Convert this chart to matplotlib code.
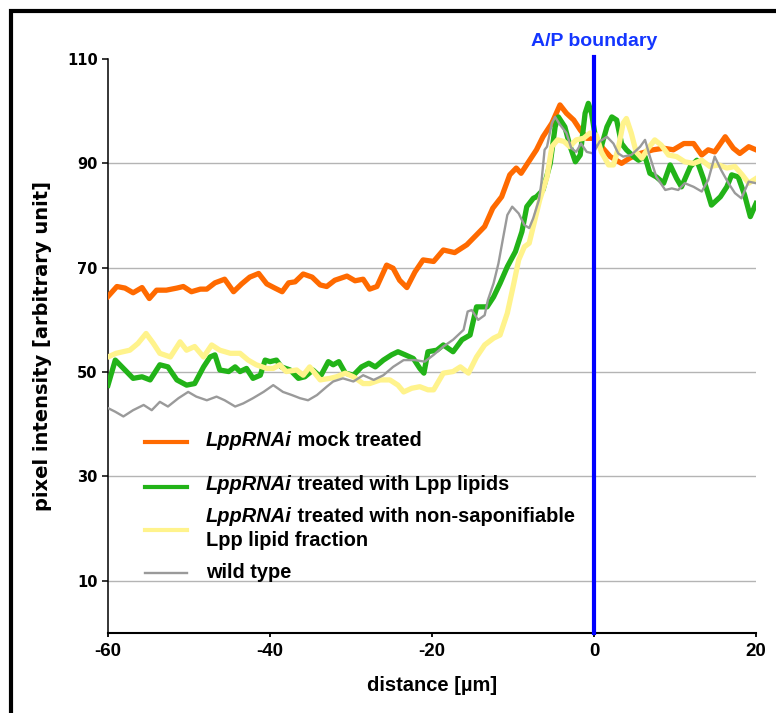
import matplotlib
matplotlib.use("Agg")
import matplotlib.pyplot as plt
from matplotlib.lines import Line2D
from matplotlib.patches import Rectangle

# profile data (distance in um, intensity in a.u.)
mock_x = [-60, -58.9, -57.9, -56.9, -55.8, -54.9, -54, -52.8, -51.5, -50.7, -49.7, -48.6, -47.8,
          -46.8, -45.6, -44.5, -43.5, -42.5, -41.4, -40.4, -39.4, -38.5, -37.7, -36.9, -35.9,
          -34.8, -33.8, -33, -32, -30.5, -29.5, -28.5, -27.7, -26.8, -25.6, -24.8, -24, -23.1,
          -22.1, -21.1, -19.8, -18.6, -17.2, -15.7, -14.5, -13.5, -12.5, -11.4, -10.4, -9.6,
          -9, -8.2, -7.1, -6.3, -5.2, -4.2, -3.4, -2.5, -1.7, -0.9, 0.3, 1.1, 2, 3.4, 4.4, 5.7,
          7.3, 8.6, 9.8, 11.1, 12.3, 13.3, 14.1, 14.9, 16.2, 17.2, 18, 19.1, 20]
mock_y = [64.5, 66.4, 66.1, 65.2, 66.2, 64.1, 65.7, 65.7, 66.1, 66.4, 65.4, 65.9, 65.9,
          67.1, 67.8, 65.4, 66.9, 68.2, 68.9, 66.9, 66.1, 65.4, 67.1, 67.3, 68.8,
          68.2, 66.7, 66.4, 67.6, 68.4, 67.5, 67.8, 65.9, 66.4, 70.5, 69.9, 67.6, 66.2,
          69.2, 71.5, 71.2, 73.4, 72.9, 74.4, 76.3, 77.9, 81.4, 83.6, 87.8, 89.1,
          88.1, 90, 92.6, 95.1, 97.7, 101.2, 99.6, 98.3, 96.4, 94.8, 94.8, 92.9, 91.3, 90, 91, 91.9,
          92.6, 92.9, 92.6, 93.8, 93.8, 91.6, 92.6, 92.2, 95.1, 92.9, 91.9, 93.2, 92.6]

lipid_x = [-60, -59.1, -57.9, -56.9, -55.8, -54.8, -53.6, -52.6, -51.5, -50.3, -49.3, -48.2, -47.4,
           -46.8, -46.2, -45.1, -44.3, -43.7, -42.9, -42.1, -41.2, -40.6, -40, -39.2, -38.6, -37.5,
           -36.5, -35.7, -34.7, -33.8, -32.8, -32.2, -31.5, -30.7, -29.7, -28.7, -27.8, -27, -26,
           -25, -24.2, -23.3, -22.3, -21.5, -21, -20.5, -19.4, -18.6, -17.4, -16.3, -15.3, -14.5,
           -13.2, -12.4, -11.6, -10.7, -9.7, -8.9, -8.3, -7.5, -7.1, -6.3, -5.4, -4.8, -4.4, -3.6,
           -3, -2.3, -1.7, -1.1, -0.7, -0.3, 0.3, 0.9, 1.6, 2.2, 2.8, 3.4, 4, 4.9, 5.5, 6.3, 6.9,
           7.7, 8.6, 9.4, 10.2, 10.8, 11.9, 12.7, 13.5, 14.5, 15.6, 16.4, 17, 17.8, 18.6, 19.3, 20]
lipid_y = [47.5, 52.3, 50.4, 48.8, 49.1, 48.5, 51.4, 51, 48.5, 47.5, 47.8, 51, 52.9,
           53.3, 50.4, 50.1, 51, 50.1, 50.7, 48.8, 49.4, 52.3, 52, 52.3, 51, 50.4,
           48.8, 49.1, 50.4, 49.1, 52, 51.4, 52, 49.8, 49.4, 51, 51.7, 51, 52.3,
           53.3, 53.9, 53.3, 52.6, 50.7, 49.8, 53.9, 54.2, 55.2, 53.9, 56.2, 57.1, 62.5,
           62.5, 64.4, 67, 70.2, 73.1, 76.9, 81.7, 83.3, 83.6, 84.9, 90, 97, 98.9, 97,
           93.5, 90.3, 91.6, 99.6, 101.5, 99.6, 93.8, 93.2, 97, 98.9, 98.3, 93.8, 92.6, 91.3, 90.6, 91.3, 88.1,
           87.4, 86.2, 89.7, 87.1, 85.5, 89.4, 90.6, 87.1, 82, 83.6, 85.5, 87.8, 87.4, 83.9, 79.8, 82.3]

nonsap_x = [-60, -59, -57.3, -56.3, -55.3, -54.4, -53.6, -52.3, -51.1, -50.3, -49.3, -48.2, -47.2,
            -46.2, -44.9, -43.7, -42.7, -41.7, -40.4, -39.6, -38.8, -38, -36.7, -35.9, -35.1, -33.8,
            -32.6, -31.8, -30.7, -29.7, -28.5, -27.7, -26.4, -25.2, -24.2, -23.5, -22.5, -21.5,
            -20.5, -19.8, -18.6, -17.4, -16.5, -15.5, -14.5, -13.5, -12.4, -11.6, -10.7, -9.9,
            -9.3, -8.6, -8, -7.5, -6.7, -5.8, -5.2, -4.5, -3.7, -3, -2.2, -1.3, -0.5, 0.3, 0.9,
            1.8, 2.4, 3, 3.6, 4, 4.6, 5.2, 5.9, 6.7, 7.5, 8.3, 9.2, 10.2, 11.2, 12.3, 13.3, 14.3,
            15.4, 16.4, 17.4, 18.3, 19.1, 20]
nonsap_y = [52.9, 53.6, 54.2, 55.5, 57.4, 55.5, 53.6, 52.9, 55.8, 54.2, 54.9, 52.9, 55.2,
            54.2, 53.6, 53.6, 52.3, 51.4, 50.7, 50.7, 51.4, 50.1, 50.4, 49.4, 51, 48.5,
            48.8, 49.1, 49.8, 49.1, 47.8, 47.8, 48.5, 48.5, 47.5, 46.2, 46.9, 47.2,
            46.6, 46.6, 49.8, 50.1, 51, 49.8, 52.9, 55.2, 56.5, 57.1, 61.3, 67,
            71.5, 74, 74.7, 77.9, 83, 87.4, 93.2, 94.5, 94.2, 93.2, 94.5, 94.8, 95.8, 95.4, 92.2,
            89.7, 89.7, 92.9, 97.7, 98.6, 95.8, 92.2, 91, 92.9, 94.5, 93.5, 91.6, 91.3, 90.3, 90, 90.6, 89.4,
            89.7, 89.1, 89.4, 87.8, 86.2, 87.1]

wt_x = [-60, -59.1, -58.1, -56.9, -55.6, -54.6, -53.6, -52.6, -51.3, -50.1, -49.1, -47.8, -46.6,
        -45.6, -44.3, -43.3, -42.1, -40.8, -39.6, -38.4, -37.3, -36.3, -35.3, -34.2, -33, -32.2,
        -31, -29.7, -28.5, -27.2, -26, -24.8, -23.5, -22.1, -20.9, -19.8, -18.6, -17.4, -16.1,
        -15.6, -15.1, -14.3, -13.5, -13.1, -12.4, -11.8, -11.2, -10.7, -10.1, -9.3, -8.6, -8,
        -7.5, -6.8, -6.5, -6.1, -5.8, -5.2, -4.8, -4.2, -3.4, -2.8, -2.2, -1.6, -0.9, -0.1, 0.7,
        1.6, 2.4, 3, 3.6, 4.6, 5.7, 6.3, 6.9, 7.7, 8.8, 9.6, 10.4, 11.2, 12.3, 13.3, 14.1, 14.9,
        15.7, 16.6, 17.4, 18.2, 19.1, 20]
wt_y = [43.1, 42.4, 41.5, 42.7, 43.7, 42.7, 44.3, 43.4, 45, 46.2, 45.3, 44.6, 45.3,
        44.6, 43.4, 44, 45, 46.2, 47.5, 46.2, 45.6, 45, 44.6, 45.6, 47.2, 48.2,
        48.8, 48.2, 49.4, 48.5, 49.4, 51, 52.3, 52.3, 52, 53.3, 54.9, 56.2, 58.1,
        61.6, 61.9, 60, 60.9, 63.8, 67, 70.8, 75.9, 80.1, 81.7, 80.4, 78.2, 77.6,
        79.5, 83, 86.2, 92.6, 93.2, 97.7, 98.9, 97.4, 95.8, 92.9, 92.2, 93.8, 92.2, 91.9, 94.2,
        95.1, 93.8, 91.9, 91.3, 91.6, 93.2, 94.5, 91.3, 87.4, 84.9, 85.2, 84.9, 86.2, 85.5, 84.6, 86.8, 91.3,
        88.7, 86.2, 84.3, 83.3, 86.5, 86.2]

series = [
    (mock_x, mock_y, "#ff6a00", 3.8, "mock treated"),
    (lipid_x, lipid_y, "#22b318", 3.8, "treated with Lpp lipids"),
    (nonsap_x, nonsap_y, "#fff38c", 3.8, "treated with non-saponifiable"),
    (wt_x, wt_y, "#9a9a9a", 1.7, "wild type"),
]

y_ticks = [10, 30, 50, 70, 90, 110]
x_ticks = [-60, -40, -20, 0, 20]
grid_levels = [10, 30, 50, 70, 90]

fig = plt.figure(figsize=(7.76, 7.13), dpi=100)
ax = fig.add_axes([108 / 776, 1 - 633 / 713, 648 / 776, 574 / 713])

# black frame around the panel (runs off the right and bottom edges)
fig.patches.append(Rectangle((11 / 776, -0.1), 1.2, 1 - 11 / 713 + 0.1, transform=fig.transFigure,
                             fill=False, edgecolor="black", linewidth=3.0, clip_on=False))

for g in grid_levels:
    ax.axhline(g, color="#b4b4b4", linewidth=1.0, zorder=1)

for i, (xs, ys, col, lw, _) in enumerate(series):
    ax.plot(xs, ys, color=col, linewidth=lw, solid_joinstyle="round", zorder=3 + i)

# A/P boundary marker
ax.plot([0, 0], [0, 110.4], color="#0000ff", linewidth=3.0, zorder=10, clip_on=False)
ax.text(0, 113.4, "A/P boundary", color="#1436ff", ha="center", va="center",
        fontsize=14, fontweight="bold", family="Liberation Sans", clip_on=False)

ax.set_xlim(-60, 20)
ax.set_ylim(0, 110)
ax.set_xticks(x_ticks)
ax.set_yticks(y_ticks)
ax.set_xticklabels([str(v) for v in x_ticks], fontsize=13.5, fontweight="bold", family="Liberation Sans")
ax.set_yticklabels([str(v) for v in y_ticks], fontsize=10.5, fontweight="bold", family="DejaVu Sans")
ax.tick_params(axis="y", direction="out", length=4.5, width=1.1, pad=3)
ax.tick_params(axis="x", direction="out", length=3, width=1.3, pad=4)

for s in ["top", "right"]:
    ax.spines[s].set_visible(False)
ax.spines["left"].set_linewidth(1.1)
ax.spines["bottom"].set_linewidth(1.5)

ax.set_xlabel("distance [µm]", fontsize=14.5, fontweight="bold", family="Liberation Sans", labelpad=12)
ax.set_ylabel("pixel intensity [arbitrary unit]", fontsize=14, fontweight="bold",
              family="DejaVu Sans", labelpad=11)


# hand-placed legend (pixel positions of the reference)
def fx(px):
    return (px - 108) / 648


def fy(py):
    return (633 - py) / 574


leg_rows = [441, 485, 517, 572]
handle_rows = [442, 486.5, 529.5, 573]
for (xs, ys, col, lw, rest), ty, hy in zip(series, leg_rows, handle_rows):
    hw = 3.0 if lw > 2 else 1.7
    ax.add_line(Line2D([fx(145), fx(187)], [fy(hy), fy(hy)], color=col, linewidth=hw,
                       transform=ax.transAxes, clip_on=False))
    if rest == "wild type":
        ax.text(fx(206), fy(ty), rest, transform=ax.transAxes, va="center", ha="left",
                fontsize=14.4, fontweight="bold", family="Liberation Sans")
        continue
    t1 = ax.text(fx(206), fy(ty), "LppRNAi", transform=ax.transAxes, va="center", ha="left",
                 fontsize=14.4, fontweight="bold", style="italic", family="Liberation Sans")
    ax.annotate(" " + rest, xy=(1, 0), xycoords=t1, va="bottom", ha="left",
                fontsize=14.4, fontweight="bold", family="Liberation Sans")
ax.text(fx(206), fy(540), "Lpp lipid fraction", transform=ax.transAxes, va="center", ha="left",
        fontsize=14.4, fontweight="bold", family="Liberation Sans")

fig.savefig("out.png", dpi=100)
